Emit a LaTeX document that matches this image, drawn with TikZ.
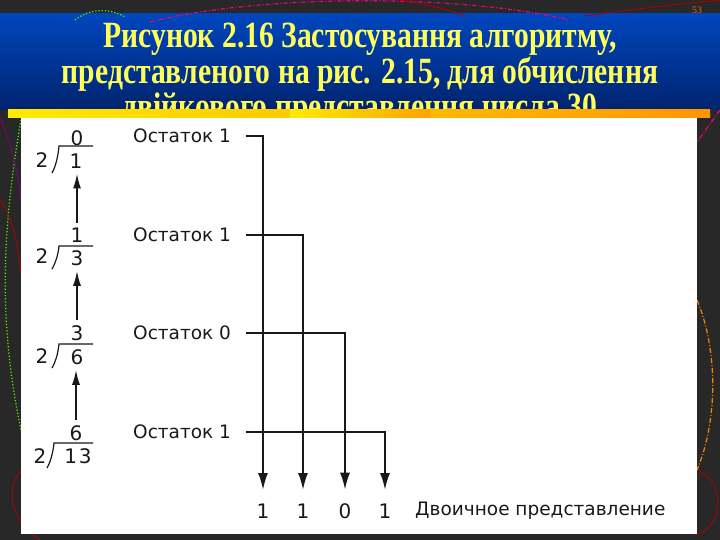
\documentclass[tikz,border=0pt]{standalone}
\usepackage{fontspec}
\setmainfont{Liberation Serif}
\newfontfamily\titlefont{Liberation Serif}[FakeStretch=0.8]
\newfontfamily\labelfont{DejaVu Sans}
\usetikzlibrary{arrows.meta,positioning,calc}

\definecolor{slidebg}{RGB}{40,40,40}
\definecolor{titleyellow}{RGB}{255,255,90}
\definecolor{bandtop}{RGB}{0,70,190}
\definecolor{bandmid}{RGB}{0,110,255}
\definecolor{bandbot}{RGB}{0,35,110}
\definecolor{baryellow}{RGB}{255,235,0}
\definecolor{barorange}{RGB}{255,150,0}
\definecolor{ink}{RGB}{25,25,25}

\begin{document}
\begin{tikzpicture}[x=1pt,y=-1pt,
  digit/.style = {font=\labelfont\fontsize{20}{20}\selectfont, text=ink, inner sep=0pt},
  rest/.style = {font=\labelfont\fontsize{18.5}{19}\selectfont, text=ink, inner sep=0pt, anchor=west},
  title/.style = {font=\titlefont\bfseries\fontsize{37}{37}\selectfont, text=titleyellow, anchor=base, inner sep=0pt},
  up/.style = {-{Latex[length=15pt,width=8pt]}, line width=1.8pt, draw=ink, shorten <=5pt, shorten >=5pt},
  down/.style = {-{Latex[length=17pt,width=10pt]}, line width=2pt, draw=ink, shorten <=15pt, shorten >=13.5pt},
  bracket/.style = {line width=1.2pt, draw=ink},
  deco/.style = {line width=1.2pt}]
\useasboundingbox (0,0) rectangle (720,540);

% slide background
\fill[slidebg] (0,0) rectangle (720,540);
\shade[top color=bandtop, middle color=bandmid, bottom color=bandbot] (0,14) rectangle (720,110);

% decoration
\draw[deco, magenta!85!red, dash pattern=on 4pt off 2pt on 1pt off 2pt] (150,22) .. controls (260,-6) and (460,-6) .. (570,20);
\draw[deco, green!70!yellow, dotted] (75,20) .. controls (90,8) and (110,8) .. (125,17);
\draw[red!70!black, line width=0.8pt] (400,0) .. controls (430,5) and (450,10) .. (465,16);
\draw[red!70!black, line width=0.8pt] (585,16) .. controls (640,8) and (690,3) .. (720,0);
\draw[deco, green!70!yellow, dotted] (21,120) .. controls (0,240) and (0,330) .. (21,430);
\draw[violet, line width=0.8pt] (0,118) .. controls (10,140) and (18,170) .. (21,200);
\draw[red!70!black, line width=0.8pt] (0,200) .. controls (15,220) and (18,250) .. (21,275);
\draw[red!70!black, line width=0.8pt] (21,470) .. controls (5,490) and (10,520) .. (40,540);
\draw[red!70!black, line width=0.8pt] (697,470) .. controls (725,480) and (725,525) .. (697,535);
\draw[deco, orange, dash pattern=on 5pt off 2pt on 1pt off 2pt] (697,300) .. controls (718,350) and (718,420) .. (697,470);
\draw[deco, magenta!85!red, dash pattern=on 5pt off 2pt on 1pt off 2pt] (720,110) -- (697,142);

% title
\node[title] (t1) at (360,48) {Рисунок 2.16 Застосування алгоритму,};
\node[title] (t2) at (360,84) {представленого на рис. 2.15, для обчислення};
\node[title] (t3) at (360,119) {двійкового представлення числа 30};
\node[font=\fontsize{10}{10}\selectfont, text=orange!80!red, inner sep=0pt] (page) at (697,10) {53};

% bar and panel
\shade[left color=baryellow, right color=barorange] (8,110) rectangle (710,118);
\shade[left color=baryellow, middle color=red!75!orange, right color=barorange!85!baryellow] (290,110) rectangle (430,118);
\fill[white] (21,118) rectangle (697,534);

% division column
\node[digit] (q1) at (77,138) {0};
\node[digit] (d1) at (76,161) {1};
\node[digit] (s1) at (42,160) {2};
\draw[bracket] (52,173) .. controls (56,166) and (58,156) .. (59,146) -- (93,146);

\node[digit] (q2) at (77,235) {1};
\node[digit] (d2) at (77,258) {3};
\node[digit] (s2) at (42,256) {2};
\draw[bracket] (52,269) .. controls (56,262) and (58,255) .. (59,246) -- (93,246);

\node[digit] (q3) at (77,333) {3};
\node[digit] (d3) at (77,357) {6};
\node[digit] (s3) at (42,356) {2};
\draw[bracket] (52,368) .. controls (56,361) and (58,353) .. (59,344) -- (93,344);

\node[digit] (q4) at (76,433) {6};
\node[digit] (d4) at (78,456) {1\kern2pt 3};
\node[digit] (s4) at (40,456) {2};
\draw[bracket] (47,468) .. controls (51,461) and (53,452) .. (54,443) -- (93,443);

\draw[up] (q2.north) -- (q2.north |- d1.south);
\draw[up] (q3.north) -- (q3.north |- d2.south);
\draw[up] (q4.north) -- (q4.north |- d3.south);

% remainders
\node[rest] (r1) at (133,136) {Остаток 1};
\node[rest] (r2) at (133,235) {Остаток 1};
\node[rest] (r3) at (133,333) {Остаток 0};
\node[rest] (r4) at (133,432) {Остаток 1};

% binary result
\node[digit] (b1) at (263,511) {1};
\node[digit] (b2) at (303,511) {1};
\node[digit] (b3) at (345,511) {0};
\node[digit] (b4) at (385,511) {1};
\node[rest] (bin) at (415,511) {Двоичное представление};

\draw[down] (r1) -| (b1);
\draw[down] (r2) -| (b2);
\draw[down] (r3) -| (b3);
\draw[down] (r4) -| (b4);
\end{tikzpicture}
\end{document}
